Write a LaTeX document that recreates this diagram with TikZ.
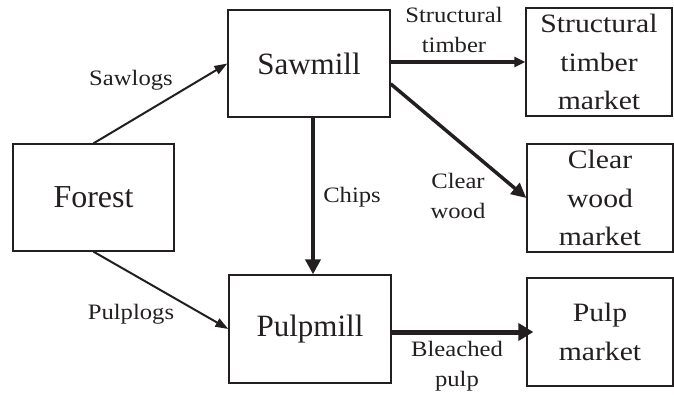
\documentclass[tikz,border=0pt]{standalone}
\usepackage{fontspec}
\setmainfont{Liberation Serif}
\newfontfamily\widefont[FakeStretch=1.12]{Liberation Serif}
\usetikzlibrary{arrows.meta,calc}
\definecolor{ink}{RGB}{35,31,32}
\begin{document}
\begin{tikzpicture}[x=1pt,y=-1pt,
  box/.style={draw=ink, line width=1.3pt, inner sep=0pt, align=center, text=ink},
  bigbox/.style={box, minimum width=161pt, minimum height=107pt},
  mktbox/.style={box, minimum width=146pt, minimum height=108pt,
    font=\widefont\fontsize{26.5}{38.5}\selectfont},
  lbl/.style={font=\widefont\fontsize{22}{29.5}\selectfont, align=center, text=ink, inner sep=0pt},
  flow/.style={draw=ink, line width=#1},
]
\useasboundingbox (0,0) rectangle (674,396);

% boxes
\node[bigbox, font=\fontsize{32}{38}\selectfont] (forest) at (93.5,197.5) {Forest};
\node[bigbox, minimum width=162pt, font=\fontsize{31}{38}\selectfont] (sawmill) at (309,63.5) {Sawmill};
\node[bigbox, minimum width=162pt, minimum height=108pt, font=\fontsize{31}{38}\selectfont] (pulpmill) at (310,329) {Pulpmill};
\node[mktbox] (stm) at (599,62) {Structural\\timber\\market};
\node[mktbox] (cwm) at (600,198) {Clear\\wood\\market};
\node[mktbox] (pm) at (600,332) {Pulp\\market};

% labels
\node[lbl] (lsaw) at (131,80) {Sawlogs};
\node[lbl] (lpulp) at (131,314) {Pulplogs};
\node[lbl] (lst) at (454,30) {Structural\\timber};
\node[lbl] (lchips) at (352,197) {Chips};
\node[lbl] (lclear) at (458,196) {Clear\\wood};
\node[lbl] (lbleach) at (457,366) {Bleached\\pulp};

% connectors
\draw[flow=2pt, -{Triangle[length=13pt,width=9pt]}] (forest.north) -- (sawmill.west);
\draw[flow=2pt, -{Triangle[length=13pt,width=9pt]}] (forest.south) -- (pulpmill.west);
\draw[flow=3pt, -{Triangle[length=11pt,width=10pt]}] (sawmill.east |- stm.west) -- (stm.west);
\draw[flow=3.5pt, -{Triangle[length=15pt,width=14pt]}] (sawmill.-14) -- (cwm.west);
\draw[flow=4pt, -{Triangle[length=15pt,width=15pt]}] ([xshift=4pt]sawmill.south) -- ([xshift=3pt]pulpmill.north);
\draw[flow=5pt, -{Triangle[length=15pt,width=17pt]}, shorten >=-7pt] (pulpmill.east |- pm.west) -- (pm.west);
\end{tikzpicture}
\end{document}
